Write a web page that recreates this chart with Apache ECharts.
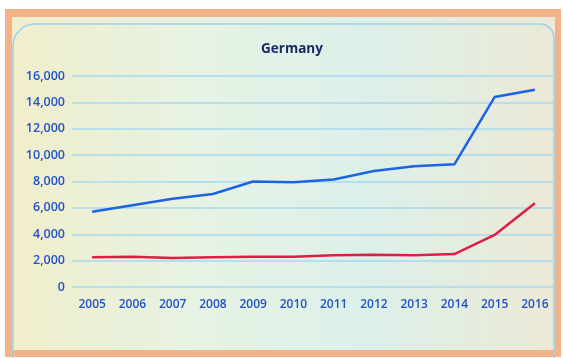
<!DOCTYPE html>
<html><head><meta charset="utf-8">
<script src="https://cdn.jsdelivr.net/npm/echarts@6/dist/echarts.min.js"></script>
<style>html,body{margin:0;padding:0;background:#fff}#c{width:563px;height:358px}</style>
</head><body><div id="c"></div>
<script>
const years = ['2005','2006','2007','2008','2009','2010','2011','2012','2013','2014','2015','2016'];
const blueSeries = [5700, 6200, 6700, 7050, 8000, 7950, 8150, 8800, 9150, 9300, 14400, 14950];
const redSeries = [2250, 2300, 2200, 2250, 2300, 2300, 2400, 2450, 2400, 2500, 3950, 6350];
const chart = echarts.init(document.getElementById('c'));
chart.setOption({
  backgroundColor: '#ffffff',
  animation: false,
  graphic: [
    {type:'rect', z:-10, shape:{x:5,y:9,width:556,height:348}, style:{fill:'#f3b287'}},
    {type:'rect', z:-9, shape:{x:12,y:17,width:543,height:333},
      style:{fill:new echarts.graphic.LinearGradient(0,0,1,0,[
        {offset:0,color:'#f1eecb'},{offset:0.35,color:'#e6f3e4'},{offset:0.65,color:'#dcf0ea'},{offset:1,color:'#ece9d6'}])}},
    {type:'rect', z:-8, shape:{x:13,y:24,width:541,height:340,r:[22,14,0,0]},
      style:{fill:'none',stroke:'#9fd0ea',lineWidth:1.5}}
  ],
  title: {text:'Germany', left:287, top:37, textAlign:'center',
    textStyle:{color:'#1b2a66', fontSize:13.5, fontWeight:'bold', fontFamily:'Open Sans'}},
  grid: {left:72, right:8, top:76, bottom:71},
  xAxis: {type:'category', data:years, boundaryGap:true,
    axisLine:{show:false}, axisTick:{show:false},
    axisLabel:{color:'#2352c4', fontSize:12, margin:12, fontFamily:'Open Sans', fontWeight:600}},
  yAxis: {type:'value', min:0, max:16000, interval:2000,
    axisLine:{show:false}, axisTick:{show:false},
    splitLine:{lineStyle:{color:'#a6d8f0', width:1.5}},
    axisLabel:{color:'#2352c4', fontSize:12.5, margin:7, fontFamily:'Open Sans', fontWeight:600,
      formatter:v=>v.toLocaleString('en-US')}},
  series: [
    {type:'line', data:blueSeries, symbol:'none', lineStyle:{color:'#1d63e6', width:2.5}},
    {type:'line', data:redSeries, symbol:'none', lineStyle:{color:'#dc1f44', width:2.5}}
  ]
});
</script></body></html>
